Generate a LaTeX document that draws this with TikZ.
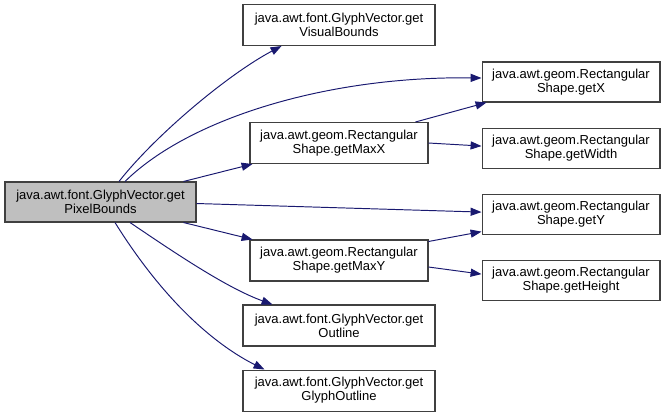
\documentclass[tikz,border=0pt]{standalone}
\usepackage{fontspec}
\setmainfont{Liberation Sans}
\usetikzlibrary{arrows.meta,positioning,calc}

\definecolor{edgeblue}{HTML}{191970}
\definecolor{boxline}{HTML}{404040}
\definecolor{rootfill}{HTML}{BFBFBF}

\begin{document}
\begin{tikzpicture}[
            x=0.02cm, y=-0.02cm,
            func/.style={draw=boxline, line width=0.6pt, fill=white, rectangle, minimum width=3.56cm, minimum height=0.8cm, inner sep=1pt, align=center, font=\fontsize{7.4}{8}\selectfont},
            glyph/.style={func, minimum width=3.84cm, minimum height=0.82cm},
            root/.style={func, fill=rootfill, minimum width=3.82cm},
            call/.style={draw=edgeblue, line width=0.55pt, -{Triangle[length=6.2pt,width=4.6pt]}},
            node distance=0.5cm
        ]
            \useasboundingbox (0,0) rectangle (665,417);

            \node[root] (pixel) at (100.5,202) {java.awt.font.GlyphVector.get\\PixelBounds};
            \node[glyph] (visual) at (339,25) {java.awt.font.GlyphVector.get\\VisualBounds};
            \node[func, minimum height=0.82cm] (maxx) at (339,143) {java.awt.geom.Rectangular\\Shape.getMaxX};
            \node[func, minimum height=0.82cm] (maxy) at (339,260.5) {java.awt.geom.Rectangular\\Shape.getMaxY};
            \node[glyph] (outline) at (339,325.5) {java.awt.font.GlyphVector.get\\Outline};
            \node[glyph, below=0.46cm of outline] (goutline) {java.awt.font.GlyphVector.get\\GlyphOutline};
            \node[func] (getx) at (571,82) {java.awt.geom.Rectangular\\Shape.getX};
            \node[func, below=of getx] (width) {java.awt.geom.Rectangular\\Shape.getWidth};
            \node[func, below=of width] (gety) {java.awt.geom.Rectangular\\Shape.getY};
            \node[func, below=of gety] (height) {java.awt.geom.Rectangular\\Shape.getHeight};

            \draw[call] ($(pixel.north)+(18.5,0)$) .. controls +(37,-47) and +(-53,28) .. ($(visual.south west)+(39,0)$);
            \draw[call] ($(pixel.north)+(24.5,0)$) .. controls +(65,-64) and +(-152,-2) .. ($(getx.west)+(0,-4)$);
            \draw[call] ($(pixel.north east)+(-13,0)$) -- ($(maxx.south west)+(3,0)$);
            \draw[call] ($(pixel.east)+(0,1.5)$) -- ($(gety.west)+(0,-2)$);
            \draw[call] ($(pixel.south east)+(-13,0)$) -- ($(maxy.north west)+(3,0)$);
            \draw[call] ($(pixel.south)+(29.5,0)$) .. controls +(41.5,28) and +(-47,-17) .. ($(outline.north west)+(30,0)$);
            \draw[call] ($(pixel.south)+(14.5,0)$) .. controls +(58,93) and +(-36,-18) .. ($(goutline.north west)+(22,0)$);
            \draw[call] ($(maxx.north east)+(-13,0)$) -- ($(getx.south west)+(5,0)$);
            \draw[call] (maxx.east) -- ($(width.west)+(0,-2)$);
            \draw[call] ($(maxy.north east)+(0,2)$) -- ($(gety.south west)+(0,-3)$);
            \draw[call] ($(maxy.east)+(0,6.5)$) -- ($(height.west)+(0,-6)$);
        \end{tikzpicture}
\end{document}
